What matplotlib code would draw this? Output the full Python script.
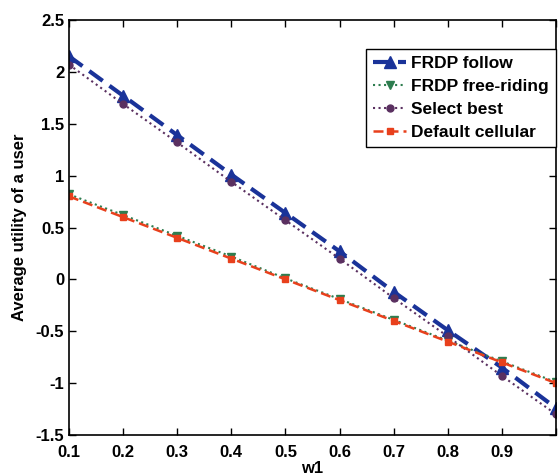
import matplotlib
matplotlib.use("Agg")
import matplotlib.pyplot as plt

plt.rcParams['font.family'] = ['Liberation Sans', 'DejaVu Sans']
plt.rcParams['font.weight'] = 'bold'

w1 = [0.1, 0.2, 0.3, 0.4, 0.5, 0.6, 0.7, 0.8, 0.9, 1.0]
frdp_follow = [2.15, 1.77, 1.39, 1.01, 0.64, 0.27, -0.12, -0.49, -0.85, -1.24]
frdp_free = [0.82, 0.62, 0.42, 0.22, 0.01, -0.19, -0.39, -0.59, -0.79, -0.99]
select_best = [2.07, 1.69, 1.32, 0.94, 0.57, 0.20, -0.18, -0.55, -0.93, -1.30]
default_cell = [0.80, 0.60, 0.40, 0.20, 0.00, -0.20, -0.40, -0.60, -0.80, -1.00]

fig = plt.figure(figsize=(5.58, 4.76), dpi=100)
ax = fig.add_axes([0.1237, 0.0861, 0.8727, 0.8719])

ax.plot(w1, frdp_follow, color='#1a3399', ls=(0, (4, 2)), lw=3,
        marker='^', ms=8, label='FRDP follow')
ax.plot(w1, frdp_free, color='#2e7d4f', ls=':', lw=1.5,
        marker='v', ms=6, label='FRDP free-riding')
ax.plot(w1, select_best, color='#5a3060', ls=':', lw=1.5,
        marker='o', ms=5, label='Select best')
ax.plot(w1, default_cell, color='#e8401c', ls=(0, (4, 2)), lw=1.8,
        marker='s', ms=5, label='Default cellular')

ax.set_xlim(0.1, 1.0)
ax.set_ylim(-1.5, 2.5)
ax.set_xticks([0.1, 0.2, 0.3, 0.4, 0.5, 0.6, 0.7, 0.8, 0.9, 1.0])
ax.set_xticklabels(['0.1', '0.2', '0.3', '0.4', '0.5', '0.6', '0.7', '0.8', '0.9', ''])
ax.set_yticks([-1.5, -1, -0.5, 0, 0.5, 1, 1.5, 2, 2.5])
ax.set_yticklabels(['-1.5', '-1', '-0.5', '0', '0.5', '1', '1.5', '2', '2.5'])
ax.tick_params(direction='in', top=True, right=True, labelsize=12, length=5, width=1)
ax.tick_params(axis='x', pad=7)
for s in ax.spines.values():
    s.set_linewidth(1.2)

ax.set_xlabel('w1', fontsize=12, fontweight='bold', labelpad=1)
ax.set_ylabel('Average utility of a user', fontsize=12, fontweight='bold', labelpad=6)

leg = ax.legend(loc='upper right', bbox_to_anchor=(0.999, 0.93), borderaxespad=0,
                fontsize=12.5, fancybox=False, edgecolor='black', framealpha=1,
                handlelength=1.95, handletextpad=0.25, borderpad=0.4, labelspacing=0.45)
leg.get_frame().set_linewidth(1)

fig.savefig('out.png', dpi=100)
